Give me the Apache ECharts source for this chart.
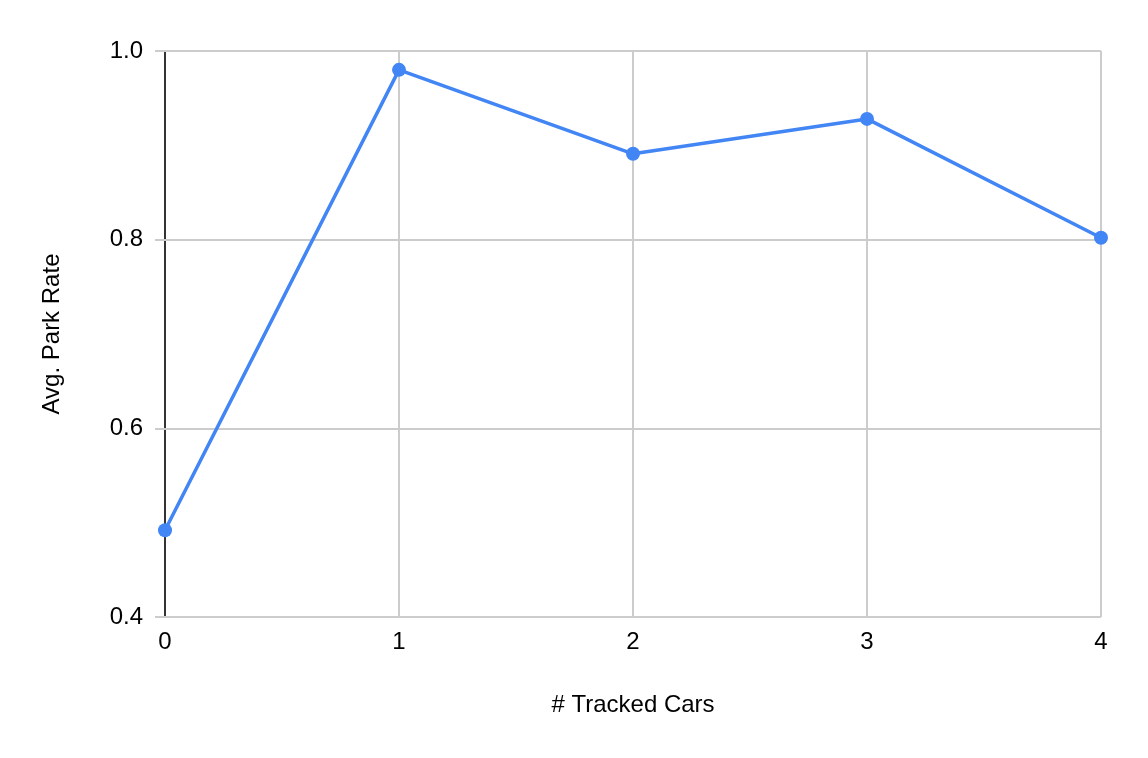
<!DOCTYPE html>
<html><head><meta charset="utf-8">
<script src="https://cdn.jsdelivr.net/npm/echarts@6/dist/echarts.min.js"></script>
<style>html,body{margin:0;padding:0;background:#fff}#c{width:1148px;height:758px}</style>
</head><body><div id="c"></div>
<script>
const trackedCars = [0, 1, 2, 3, 4];
const parkRate = [0.492, 0.980, 0.891, 0.928, 0.802];
const xName = '# Tracked Cars';
const yName = 'Avg. Park Rate';

const font = 'Liberation Sans, Arial, sans-serif';
const chart = echarts.init(document.getElementById('c'), null, {renderer: 'canvas'});
chart.setOption({
  animation: false,
  backgroundColor: '#fff',
  grid: {left: 165, right: 47, top: 51, bottom: 141, containLabel: false},
  xAxis: {
    type: 'value', min: 0, max: 4, interval: 1,
    name: xName, nameLocation: 'middle', nameGap: 76,
    nameTextStyle: {fontFamily: font, fontSize: 24, color: '#000'},
    axisLine: {show: false},
    axisTick: {show: false},
    axisLabel: {fontFamily: font, fontSize: 24, color: '#000', margin: 13},
    splitLine: {show: true, lineStyle: {color: '#cccccc', width: 2}}
  },
  yAxis: [{
    type: 'value', min: 0.4, max: 1.0, interval: 0.2,
    name: yName, nameLocation: 'middle', nameGap: 101,
    nameTextStyle: {fontFamily: font, fontSize: 24, color: '#000'},
    axisLine: {show: true, onZero: false, lineStyle: {color: '#333', width: 2}},
    axisTick: {show: true, length: 10, lineStyle: {color: '#cccccc', width: 2}},
    axisLabel: {fontFamily: font, fontSize: 24, color: '#000', margin: 22,
      formatter: v => v.toFixed(1)},
    splitLine: {show: true, lineStyle: {color: '#cccccc', width: 2}}
  }, {
    type: 'value', min: 0.4, max: 1.0, interval: 0.2, position: 'right',
    axisLine: {show: false},
    axisTick: {show: true, length: 10, lineStyle: {color: '#cccccc', width: 2}},
    axisLabel: {show: false},
    splitLine: {show: false}
  }],
  series: [{
    type: 'line',
    data: trackedCars.map((x, i) => [x, parkRate[i]]),
    yAxisIndex: 0,
    symbol: 'circle', symbolSize: 14,
    lineStyle: {color: '#4285F4', width: 3.5},
    itemStyle: {color: '#4285F4'}
  }]
});
</script></body></html>
